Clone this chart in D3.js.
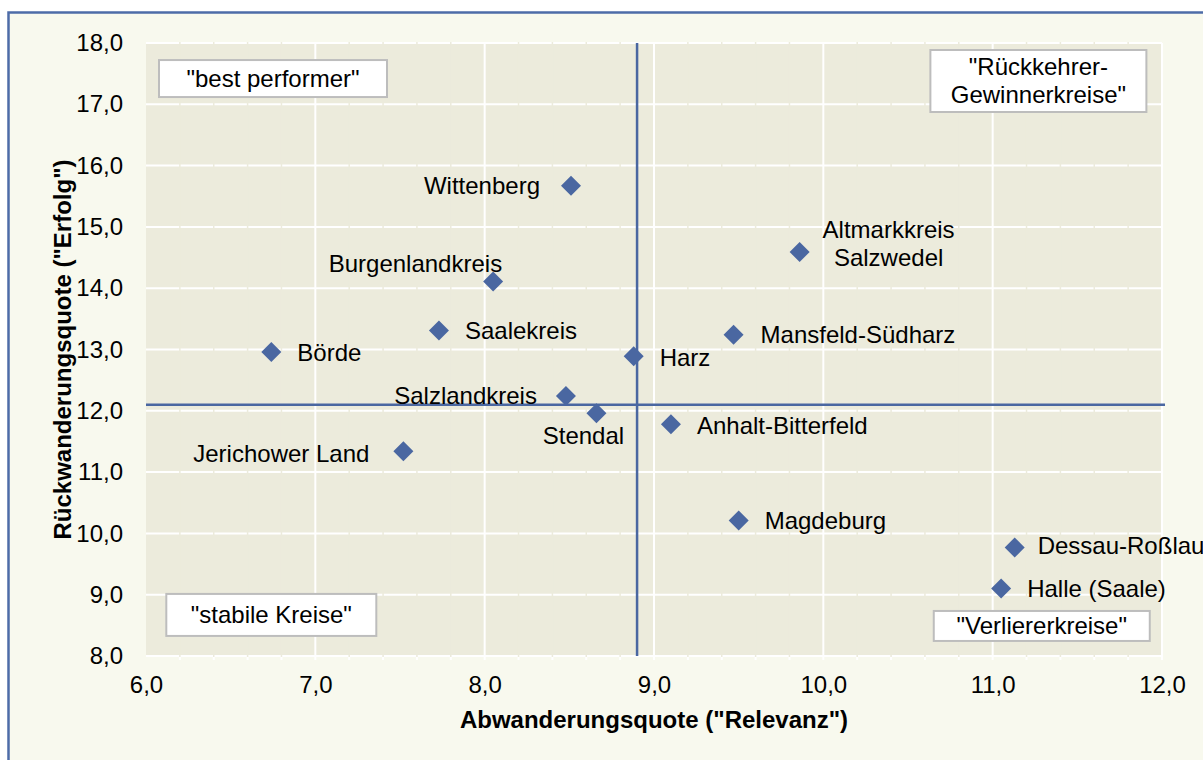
<!DOCTYPE html>
<html>
<head>
<meta charset="utf-8">
<script src="https://cdn.jsdelivr.net/npm/d3@7"></script>
<style>
  html, body { margin: 0; padding: 0; background: #ffffff; }
  svg { display: block; font-family: "Liberation Sans", Arial, sans-serif; }
</style>
</head>
<body>
<svg id="chart" width="1203" height="760"></svg>
<script>
// ---- data ----
const districts = ["Wittenberg", "Altmarkkreis Salzwedel", "Burgenlandkreis", "Saalekreis", "Börde",
  "Harz", "Mansfeld-Südharz", "Salzlandkreis", "Stendal", "Anhalt-Bitterfeld",
  "Jerichower Land", "Magdeburg", "Dessau-Roßlau", "Halle (Saale)"];
const abwanderung = [8.51, 9.86, 8.05, 7.73, 6.74, 8.88, 9.47, 8.48, 8.66, 9.10, 7.52, 9.50, 11.13, 11.05];
const rueckwanderung = [15.67, 14.59, 14.11, 13.31, 12.96, 12.89, 13.24, 12.24, 11.96, 11.78, 11.34, 10.21, 9.77, 9.10];
const xTicks = [6, 7, 8, 9, 10, 11, 12];
const yTicks = [8, 9, 10, 11, 12, 13, 14, 15, 16, 17, 18];
const xMean = 8.9;
const yMean = 12.1;
const quadrantNames = ["\"best performer\"", "\"Rückkehrer-\nGewinnerkreise\"", "\"stabile Kreise\"", "\"Verliererkreise\""];
const quadrantAnchors = [[6.75, 17.42], [11.27, 17.38], [6.74, 8.67], [11.29, 8.49]];
const xTitle = "Abwanderungsquote (\"Relevanz\")";
const yTitle = "Rückwanderungsquote (\"Erfolg\")";

// ---- layout (label placement relative to marker, px) ----
const labelLayout = {
  "Wittenberg": { anchor: "end", dx: -31, dy: 0 },
  "Altmarkkreis Salzwedel": { anchor: "middle", dx: 89, dy: -22, lh: 28 },
  "Burgenlandkreis": { anchor: "end", dx: 9, dy: -18 },
  "Saalekreis": { anchor: "start", dx: 26, dy: 0 },
  "Börde": { anchor: "start", dx: 26, dy: 1 },
  "Harz": { anchor: "start", dx: 26, dy: 1 },
  "Mansfeld-Südharz": { anchor: "start", dx: 27, dy: 0 },
  "Salzlandkreis": { anchor: "end", dx: -29, dy: 0 },
  "Stendal": { anchor: "middle", dx: -13, dy: 22 },
  "Anhalt-Bitterfeld": { anchor: "start", dx: 26, dy: 1 },
  "Jerichower Land": { anchor: "end", dx: -34, dy: 2 },
  "Magdeburg": { anchor: "start", dx: 26, dy: 0 },
  "Dessau-Roßlau": { anchor: "start", dx: 23, dy: -2 },
  "Halle (Saale)": { anchor: "start", dx: 26, dy: 0 }
};
const boxSizes = [[228, 37], [216, 62], [210, 42], [216, 30]];

const plot = { left: 146, right: 1162, top: 43, bottom: 656 };
const C = {
  outerBg: "#f8f9ee", plotBg: "#ecebdc", frame: "#4d6ca8", marker: "#4a67a1",
  grid: "#ffffff", boxBorder: "#bdbdbd", text: "#000000"
};
const FS = 24;

const svg = d3.select("#chart");
const fmt = d => d3.format(".1f")(d).replace(".", ",");

const x = d3.scaleLinear().domain([6, 12]).range([plot.left, plot.right]);
const y = d3.scaleLinear().domain([8, 18]).range([plot.bottom, plot.top]);

// outer frame
svg.append("rect").attr("x", 8.5).attr("y", 12.5).attr("width", 1300).attr("height", 800)
  .attr("fill", C.outerBg).attr("stroke", C.frame).attr("stroke-width", 2.5);

// plot background
svg.append("rect").attr("x", plot.left).attr("y", plot.top)
  .attr("width", plot.right - plot.left).attr("height", plot.bottom - plot.top)
  .attr("fill", C.plotBg);

// horizontal major gridlines
svg.append("g").selectAll("line").data(yTicks).join("line")
  .attr("x1", plot.left).attr("x2", plot.right)
  .attr("y1", d => y(d)).attr("y2", d => y(d))
  .attr("stroke", C.grid).attr("stroke-width", 2);

// minor vertical lines (background colour) that break horizontal gridlines
const minor = d3.range(6.2, 12, 0.2).filter(v => Math.abs(v - Math.round(v)) > 0.01);
svg.append("g").selectAll("line").data(minor).join("line")
  .attr("x1", d => x(d)).attr("x2", d => x(d))
  .attr("y1", plot.top - 1).attr("y2", plot.bottom + 1)
  .attr("stroke", C.plotBg).attr("stroke-width", 1.5);
// minor tick marks below the axis
svg.append("g").selectAll("line").data(minor).join("line")
  .attr("x1", d => x(d)).attr("x2", d => x(d))
  .attr("y1", plot.bottom + 1).attr("y2", plot.bottom + 4)
  .attr("stroke", C.grid).attr("stroke-width", 2);

// vertical major gridlines
svg.append("g").selectAll("line").data(xTicks.filter(d => d > 6)).join("line")
  .attr("x1", d => x(d)).attr("x2", d => x(d))
  .attr("y1", plot.top).attr("y2", plot.bottom + 4)
  .attr("stroke", C.grid).attr("stroke-width", 2);

// axes
const xAxis = svg.append("g").attr("transform", `translate(0,${plot.bottom})`)
  .call(d3.axisBottom(x).tickValues(xTicks).tickFormat(fmt).tickSize(0).tickPadding(18));
const yAxis = svg.append("g").attr("transform", `translate(${plot.left},0)`)
  .call(d3.axisLeft(y).tickValues(yTicks).tickFormat(fmt).tickSize(0).tickPadding(23));
[xAxis, yAxis].forEach(a => {
  a.select(".domain").remove();
  a.selectAll("text").attr("font-size", FS).attr("fill", C.text)
    .attr("font-family", "Liberation Sans, Arial, sans-serif");
});
xAxis.selectAll("text").attr("dy", "0.71em").attr("y", 20);

// axis titles
svg.append("text").attr("x", (plot.left + plot.right) / 2).attr("y", 728)
  .attr("text-anchor", "middle").attr("font-weight", "bold").attr("font-size", FS)
  .attr("fill", C.text).text(xTitle);
svg.append("text").attr("transform", `translate(71,${(plot.top + plot.bottom) / 2}) rotate(-90)`)
  .attr("text-anchor", "middle").attr("font-weight", "bold").attr("font-size", FS)
  .attr("fill", C.text).text(yTitle);

// quadrant lines
svg.append("line").attr("x1", x(xMean)).attr("x2", x(xMean))
  .attr("y1", plot.top).attr("y2", plot.bottom)
  .attr("stroke", C.marker).attr("stroke-width", 2.5);
svg.append("line").attr("x1", plot.left).attr("x2", plot.right + 3)
  .attr("y1", y(yMean)).attr("y2", y(yMean))
  .attr("stroke", C.marker).attr("stroke-width", 2.5);

// quadrant annotation boxes
const boxes = svg.append("g").selectAll("g").data(quadrantNames).join("g")
  .attr("transform", (d, i) => `translate(${x(quadrantAnchors[i][0])},${y(quadrantAnchors[i][1])})`);
boxes.append("rect")
  .attr("x", (d, i) => -boxSizes[i][0] / 2).attr("y", (d, i) => -boxSizes[i][1] / 2)
  .attr("width", (d, i) => boxSizes[i][0]).attr("height", (d, i) => boxSizes[i][1])
  .attr("fill", "#ffffff").attr("stroke", C.boxBorder).attr("stroke-width", 2);
boxes.each(function (d) {
  const lines = d.split("\n");
  const t = d3.select(this).append("text").attr("text-anchor", "middle")
    .attr("font-size", FS).attr("fill", C.text);
  lines.forEach((ln, k) => {
    t.append("tspan").attr("x", 0)
      .attr("y", (k - (lines.length - 1) / 2) * 28)
      .attr("dy", "0.35em").text(ln);
  });
});

// markers
const pts = districts.map((name, i) => ({ name, xv: abwanderung[i], yv: rueckwanderung[i] }));
svg.append("g").selectAll("path").data(pts).join("path")
  .attr("d", d3.symbol(d3.symbolSquare, 200))
  .attr("transform", d => `translate(${x(d.xv)},${y(d.yv)}) rotate(45)`)
  .attr("fill", C.marker);

// labels
const labels = svg.append("g").selectAll("text").data(pts).join("text")
  .attr("font-size", FS).attr("fill", C.text)
  .attr("text-anchor", d => labelLayout[d.name].anchor);
labels.each(function (d) {
  const L = labelLayout[d.name];
  const px = x(d.xv) + L.dx, py = y(d.yv) + L.dy;
  const parts = L.lh ? d.name.split(" ") : [d.name];
  parts.forEach((p, k) => {
    d3.select(this).append("tspan").attr("x", px).attr("y", py + k * (L.lh || 0))
      .attr("dy", "0.35em").text(p);
  });
});
</script>
</body>
</html>
